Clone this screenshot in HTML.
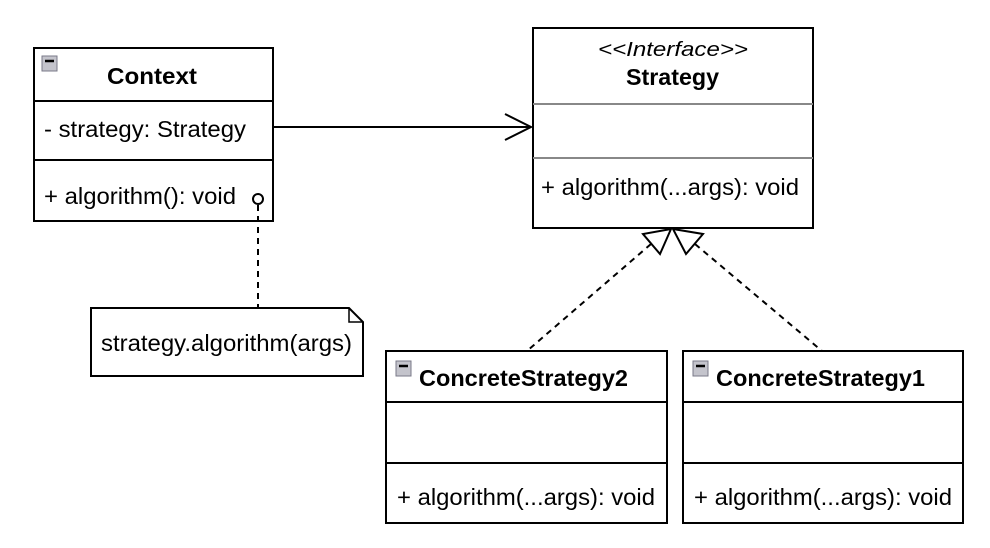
<!DOCTYPE html>
<html><head><meta charset="utf-8"><style>
html,body{margin:0;padding:0;background:#fff;}
svg{display:block;}
text{font-family:"Liberation Sans",Arial,sans-serif;font-size:23px;fill:#000;}
.b{font-weight:bold;}
</style></head><body>
<svg width="990" height="548" viewBox="0 0 990 548" xmlns="http://www.w3.org/2000/svg">
<!-- Context -->
<rect x="34" y="48" width="239" height="173" fill="#fff" stroke="#000" stroke-width="2"/>
<line x1="34" y1="101" x2="273" y2="101" stroke="#000" stroke-width="2"/>
<line x1="34" y1="160" x2="273" y2="160" stroke="#000" stroke-width="2"/>
<rect x="42" y="56" width="15" height="15" fill="#c4c4cc" stroke="#7a7a88" stroke-width="1"/>
<line x1="45" y1="61" x2="54" y2="61" stroke="#000" stroke-width="2.5"/>
<text x="107" y="84" class="b" textLength="90" lengthAdjust="spacingAndGlyphs">Context</text>
<text x="44" y="137" textLength="202" lengthAdjust="spacingAndGlyphs">- strategy: Strategy</text>
<text x="44" y="204" textLength="192" lengthAdjust="spacingAndGlyphs">+ algorithm(): void</text>
<circle cx="258" cy="199" r="5" fill="#fff" stroke="#000" stroke-width="2"/>
<line x1="258" y1="205" x2="258" y2="308" stroke="#000" stroke-width="2" stroke-dasharray="6,5"/>
<!-- Note -->
<path d="M91 308 H349 L363 322 V376 H91 Z" fill="#fff" stroke="#000" stroke-width="2"/>
<path d="M349 308 V322 H363" fill="none" stroke="#000" stroke-width="1.5"/>
<text x="101" y="351" textLength="251" lengthAdjust="spacingAndGlyphs">strategy.algorithm(args)</text>
<!-- Association -->
<line x1="273" y1="127" x2="531" y2="127" stroke="#000" stroke-width="2"/>
<path d="M505 114 L531 127 L505 140" fill="none" stroke="#000" stroke-width="2"/>
<!-- Strategy -->
<rect x="533" y="28" width="280" height="200" fill="#fff" stroke="#000" stroke-width="2"/>
<line x1="533" y1="104" x2="813" y2="104" stroke="#888" stroke-width="2"/>
<line x1="533" y1="158" x2="813" y2="158" stroke="#888" stroke-width="2"/>
<text x="598" y="56" font-style="italic" style="font-size:20px" textLength="150" lengthAdjust="spacingAndGlyphs">&lt;&lt;Interface&gt;&gt;</text>
<text x="626" y="85" class="b" textLength="93" lengthAdjust="spacingAndGlyphs">Strategy</text>
<text x="541" y="195" textLength="258" lengthAdjust="spacingAndGlyphs">+ algorithm(...args): void</text>
<!-- realization -->
<line x1="651" y1="244" x2="527" y2="351" stroke="#000" stroke-width="2" stroke-dasharray="6,5"/>
<line x1="695" y1="244" x2="822" y2="351" stroke="#000" stroke-width="2" stroke-dasharray="6,5"/>
<path d="M671 229 L643 234 L660 254 Z" fill="#fff" stroke="#000" stroke-width="2"/>
<path d="M673 229 L703 234 L686 254 Z" fill="#fff" stroke="#000" stroke-width="2"/>
<!-- CS2 -->
<rect x="386" y="351" width="281" height="172" fill="#fff" stroke="#000" stroke-width="2"/>
<line x1="386" y1="402" x2="667" y2="402" stroke="#000" stroke-width="2"/>
<line x1="386" y1="463" x2="667" y2="463" stroke="#000" stroke-width="2"/>
<rect x="396" y="361" width="15" height="15" fill="#c4c4cc" stroke="#7a7a88" stroke-width="1"/>
<line x1="399" y1="366" x2="408" y2="366" stroke="#000" stroke-width="2.5"/>
<text x="419" y="386" class="b" textLength="209" lengthAdjust="spacingAndGlyphs">ConcreteStrategy2</text>
<text x="397" y="505" textLength="258" lengthAdjust="spacingAndGlyphs">+ algorithm(...args): void</text>
<!-- CS1 -->
<rect x="683" y="351" width="280" height="172" fill="#fff" stroke="#000" stroke-width="2"/>
<line x1="683" y1="402" x2="963" y2="402" stroke="#000" stroke-width="2"/>
<line x1="683" y1="463" x2="963" y2="463" stroke="#000" stroke-width="2"/>
<rect x="693" y="361" width="15" height="15" fill="#c4c4cc" stroke="#7a7a88" stroke-width="1"/>
<line x1="696" y1="366" x2="705" y2="366" stroke="#000" stroke-width="2.5"/>
<text x="716" y="386" class="b" textLength="209" lengthAdjust="spacingAndGlyphs">ConcreteStrategy1</text>
<text x="694" y="505" textLength="258" lengthAdjust="spacingAndGlyphs">+ algorithm(...args): void</text>
</svg>
</body></html>
